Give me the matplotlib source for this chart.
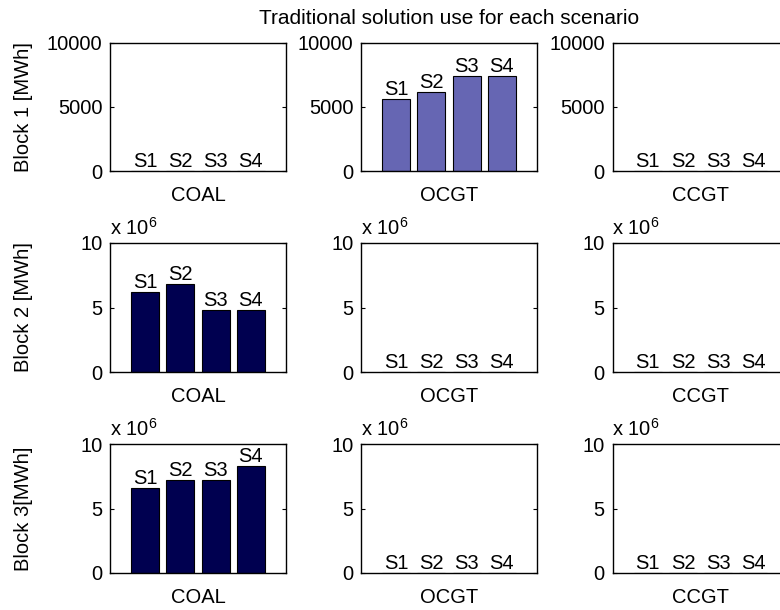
import numpy as np
import matplotlib
matplotlib.use("Agg")
import matplotlib.pyplot as plt

plt.rcParams['font.family'] = ['Liberation Sans', 'DejaVu Sans']
plt.rcParams['mathtext.fontset'] = 'custom'
plt.rcParams['mathtext.rm'] = 'Liberation Sans'
plt.rcParams['mathtext.it'] = 'Liberation Sans:italic'
plt.rcParams['font.size'] = 14.5

# data (MWh) per block and technology, scenarios S1..S4
scenarios = ["S1", "S2", "S3", "S4"]
techs = ["COAL", "OCGT", "CCGT"]
block1 = {"COAL": [0, 0, 0, 0], "OCGT": [5640, 6180, 7430, 7430], "CCGT": [0, 0, 0, 0]}
block2 = {"COAL": [6.22e6, 6.84e6, 4.83e6, 4.83e6], "OCGT": [0, 0, 0, 0], "CCGT": [0, 0, 0, 0]}
block3 = {"COAL": [6.59e6, 7.23e6, 7.23e6, 8.32e6], "OCGT": [0, 0, 0, 0], "CCGT": [0, 0, 0, 0]}
blocks = [block1, block2, block3]
ylabels = ["Block 1 [MWh]", "Block 2 [MWh]", "Block 3[MWh]"]
ymax = [10000, 1e7, 1e7]
colors = ["#6666b3", "#000050", "#000050"]

fig = plt.figure(figsize=(7.8, 6.1), dpi=100)
W, H = 780.0, 610.0
lefts = [110, 361, 612.5]
rows = [(43, 171), (243, 372), (444, 573)]

for r in range(3):
    top, bot = rows[r]
    for c in range(3):
        ax = fig.add_axes([lefts[c] / W, 1 - bot / H, 176 / W, (bot - top) / H])
        vals = blocks[r][techs[c]]
        x = np.arange(1, 5)
        ax.bar(x, vals, width=0.8, color=colors[r], edgecolor="black", linewidth=0.8)
        for xi, v, s in zip(x, vals, scenarios):
            ax.text(xi, v, s, ha="center", va="bottom")
        ax.set_xlim(0, 5)
        ax.set_ylim(0, ymax[r])
        ax.set_xticks([])
        ax.set_yticks([0, ymax[r] / 2, ymax[r]])
        if r == 0:
            ax.set_yticklabels(["0", "5000", "10000"])
        else:
            ax.set_yticklabels(["0", "5", "10"])
            ax.text(0, 1.03, r"x 10$^{6}$", transform=ax.transAxes, ha="left",
                    va="bottom")
        ax.tick_params(axis="y", direction="in", length=3, width=0.8, right=True,
                       pad=5.5, labelsize=14.5)
        for sp in ax.spines.values():
            sp.set_linewidth(1.0)
        ax.set_xlabel(techs[c], labelpad=11)
        if c == 0:
            ax.set_ylabel(ylabels[r])
            ax.yaxis.set_label_coords(-0.44, 0.5)
        if r == 0 and c == 1:
            ax.set_title("Traditional solution use for each scenario",
                         fontsize=15, pad=14)

fig.savefig("out.png", dpi=100)
